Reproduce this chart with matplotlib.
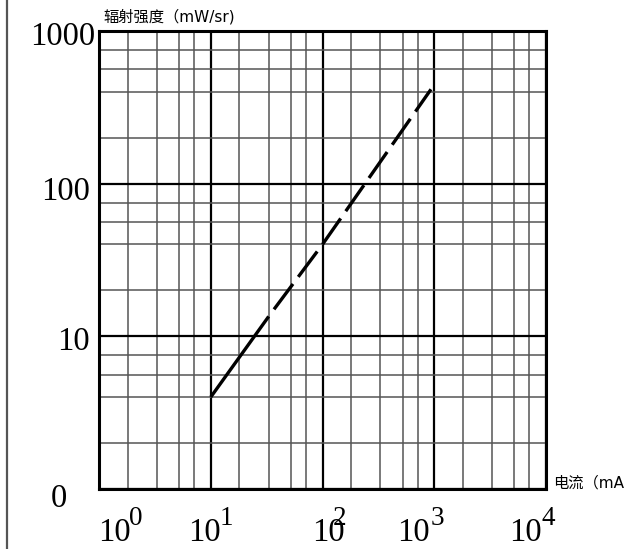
import matplotlib
matplotlib.use("Agg")
import matplotlib.pyplot as plt
from matplotlib.lines import Line2D
import matplotlib.transforms as mtransforms

# ---- data ----
solid_x = [10, 33]
solid_y = [4.0, 13.5]
dash_x = [33, 100, 935]
dash_y = [13.5, 40.0, 415]

x_major = [1, 10, 100, 1000, 10000]
y_major = [1, 10, 100, 1000]
x_minor_mult = [1.8, 3.3, 5.2, 7.1]
y_minor_mult = [2.0, 4.0, 5.6, 7.5]
y_tick_labels = ["0", "10", "100", "1000"]
x_tick_exps = ["0", "1", "2", "3", "4"]
y_title = "辐射强度（mW/sr)"
x_title = "电流（mA"

W, H = 630, 549
fig = plt.figure(figsize=(W / 100, H / 100), dpi=100)
L, R, T, B = 99, 546, 31, 489
ax = fig.add_axes([L / W, 1 - B / H, (R - L) / W, (B - T) / H])
ax.set_xscale("log")
ax.set_yscale("log")
ax.set_xlim(1, 1e4)
ax.set_ylim(1, 1000)

x_minor = [m * d for d in x_major[:-1] for m in x_minor_mult]
y_minor = [m * d for d in y_major[:-1] for m in y_minor_mult]
ax.set_xticks(x_major)
ax.set_xticks(x_minor, minor=True)
ax.set_yticks(y_major)
ax.set_yticks(y_minor, minor=True)
ax.tick_params(which="both", length=0, labelbottom=False, labelleft=False)
ax.grid(which="major", color="black", lw=1.6)
ax.grid(which="minor", color="#555555", lw=1.1)
ax.set_axisbelow(True)
for s in ax.spines.values():
    s.set_linewidth(2.2)
    s.set_color("black")

ax.plot(solid_x, solid_y, color="black", lw=2.4, solid_capstyle="butt")
ax.plot(dash_x, dash_y, color="black", lw=2.4, linestyle=(9.5, (9.5, 2.66)),
        dash_capstyle="butt")

serif = "Liberation Serif"
# y tick labels (baseline placed a few pixels below each gridline)
trans_y = mtransforms.blended_transform_factory(ax.transAxes, ax.transData)
y_label_right = [-0.072, -0.020, -0.020, -0.009]
y_label_dy = [-18, -14, -16, -14]
for val, lab, xr, dy in zip(y_major, y_tick_labels, y_label_right, y_label_dy):
    off = mtransforms.offset_copy(trans_y, fig=fig, x=0, y=dy, units="dots")
    ax.text(xr, val, lab, transform=off, ha="right", va="baseline",
            fontsize=23.5, family=serif, color="black")

# x tick labels (10 with superscript exponent), placed in figure pixels
base_left = [98, 188, 312, 397, 509]
exp_left = [129, 220, 333, 431, 541]
for bl, el, e in zip(base_left, exp_left, x_tick_exps):
    fig.text(bl / W, 1 - 541 / H, "10", ha="left", va="baseline",
             fontsize=23.5, family=serif, color="black")
    fig.text(el / W, 1 - 525 / H, e, ha="left", va="baseline",
             fontsize=19.5, family=serif, color="black")

lab_fam = ["DejaVu Sans", "Noto Sans CJK SC"]
fig.text(103 / W, 1 - 17 / H, y_title, ha="left", va="center",
         fontsize=11, family=lab_fam, color="black")
fig.text(553 / W, 1 - 483 / H, x_title, ha="left", va="center",
         fontsize=11, family=lab_fam, color="black")

# left frame line
fig.add_artist(Line2D([7 / W, 7 / W], [0, 1], color="#555555", lw=1.6,
                      transform=fig.transFigure))

fig.savefig("out.png", dpi=100)
